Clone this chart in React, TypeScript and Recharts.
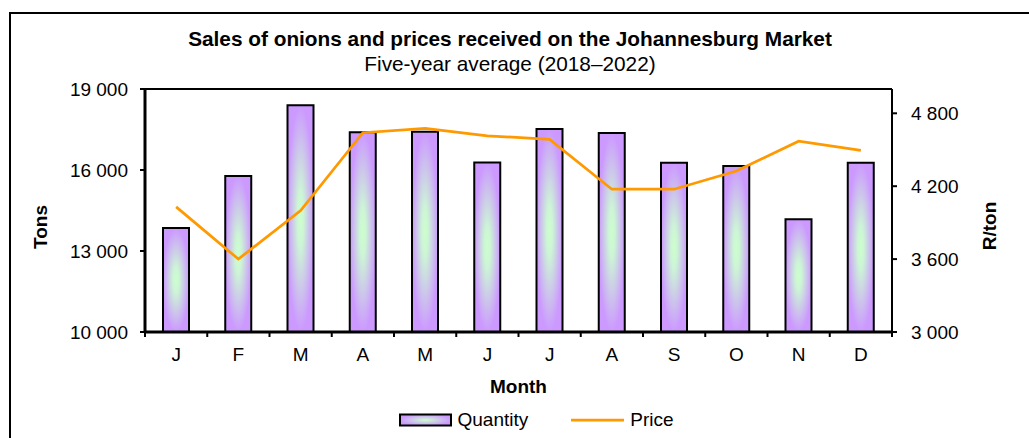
import React from 'react';
import { ComposedChart, Bar, Line, XAxis, YAxis, Legend, ReferenceLine } from 'recharts';

const months = ['J', 'F', 'M', 'A', 'M', 'J', 'J', 'A', 'S', 'O', 'N', 'D'];
const quantity = [13850, 15780, 18400, 17400, 17420, 16280, 17520, 17370, 16270, 16150, 14180, 16270];
const price = [4030, 3600, 4000, 4640, 4675, 4615, 4585, 4175, 4175, 4325, 4570, 4495];

const tonTicks = [10000, 13000, 16000, 19000];
const priceTicks = [3000, 3600, 4200, 4800];

const data = months.map((m, i) => ({ month: m, quantity: quantity[i], price: price[i] }));

const FONT = '"Liberation Sans", Arial, sans-serif';
const W = 1029;
const H = 438;
const LEFT_W = 145;
const RIGHT_W = 137;
const BAND = (W - LEFT_W - RIGHT_W) / months.length;

const fmt = (v: number) => {
  const s = String(v);
  return s.length > 3 ? s.slice(0, s.length - 3) + ' ' + s.slice(-3) : s;
};

const MonthTick = (props: any) => {
  const { x, y, payload, index } = props;
  const axisY = y - 16;
  const half = BAND / 2;
  return (
    <g>
      <text x={x} y={y} dy="0.71em" textAnchor="middle" fontSize={19} fontFamily={FONT} fill="#000">
        {payload.value}
      </text>
      <line x1={x - half} x2={x - half} y1={axisY} y2={axisY + 5} stroke="#000" strokeWidth={2} />
      {index === months.length - 1 && (
        <line x1={x + half} x2={x + half} y1={axisY} y2={axisY + 5} stroke="#000" strokeWidth={2} />
      )}
    </g>
  );
};

const LegendContent = () => (
  <div
    style={{
      display: 'flex',
      justifyContent: 'center',
      alignItems: 'center',
      height: 24,
      paddingLeft: 44,
      fontFamily: FONT,
      fontSize: 19,
      color: '#000',
    }}
  >
    <svg width={53} height={14} style={{ display: 'block' }}>
      <defs>
        <radialGradient id="legGrad" cx="0.5" cy="0.5" r="0.5">
          <stop offset="0" stopColor="#ccffcc" />
          <stop offset="1" stopColor="#cc99ff" />
        </radialGradient>
      </defs>
      <rect x={1} y={1.5} width={51} height={11} fill="url(#legGrad)" stroke="#000" strokeWidth={2} />
    </svg>
    <span style={{ marginLeft: 5 }}>Quantity</span>
    <svg width={53} height={6} style={{ display: 'block', marginLeft: 43 }}>
      <line x1={0} x2={53} y1={3} y2={3} stroke="#ff9900" strokeWidth={2.75} />
    </svg>
    <span style={{ marginLeft: 6 }}>Price</span>
  </div>
);

export default function App() {
  return (
    <div style={{ position: 'absolute', left: 0, top: 0, width: W, height: H, background: '#fff' }}>
      <ComposedChart width={W} height={H} data={data} margin={{ top: 89, right: 0, bottom: 6, left: 0 }}>
        <defs>
          <radialGradient id="qtyGrad" cx="0.5" cy="0.5" r="0.5">
            <stop offset="0" stopColor="#ccffcc" />
            <stop offset="0.25" stopColor="#ccf4d6" />
            <stop offset="1" stopColor="#cc99ff" />
          </radialGradient>
        </defs>
        <XAxis
          dataKey="month"
          height={76}
          interval={0}
          tickSize={5}
          tickMargin={11}
          tickLine={false}
          axisLine={{ stroke: '#000', strokeWidth: 3 }}
          tick={<MonthTick />}
          label={(p: any) => {
            const vb = p.viewBox;
            return (
              <text x={vb.x + vb.width / 2} y={393} textAnchor="middle" fontSize={19} fontWeight="bold" fontFamily={FONT} fill="#000">
                Month
              </text>
            );
          }}
        />
        <YAxis
          yAxisId="left"
          width={LEFT_W}
          domain={[10000, 19000]}
          ticks={tonTicks}
          tickFormatter={fmt}
          tickSize={5}
          tickMargin={12}
          axisLine={{ stroke: '#000', strokeWidth: 3 }}
          tickLine={{ stroke: '#000', strokeWidth: 2 }}
          tick={{ fontSize: 19, fontFamily: FONT, fill: '#000' }}
          label={() => (
            <text x={47} y={227} transform="rotate(-90 47 227)" textAnchor="middle" fontSize={19} fontWeight="bold" fontFamily={FONT} fill="#000">
              Tons
            </text>
          )}
        />
        <YAxis
          yAxisId="right"
          orientation="right"
          width={RIGHT_W}
          domain={[3000, 5000]}
          ticks={priceTicks}
          tickFormatter={fmt}
          tickSize={5}
          tickMargin={14}
          axisLine={{ stroke: '#000', strokeWidth: 2 }}
          tickLine={{ stroke: '#000', strokeWidth: 2 }}
          tick={{ fontSize: 19, fontFamily: FONT, fill: '#000' }}
          label={() => (
            <text x={996} y={226} transform="rotate(-90 996 226)" textAnchor="middle" fontSize={19} fontWeight="bold" fontFamily={FONT} fill="#000">
              R/ton
            </text>
          )}
        />
        <ReferenceLine yAxisId="left" y={19000} stroke="#000" strokeWidth={2} />
        <Bar
          yAxisId="left"
          dataKey="quantity"
          name="Quantity"
          barSize={26}
          fill="url(#qtyGrad)"
          stroke="#000"
          strokeWidth={2}
          isAnimationActive={false}
        />
        <Line
          yAxisId="right"
          dataKey="price"
          name="Price"
          type="linear"
          stroke="#ff9900"
          strokeWidth={2.75}
          dot={false}
          activeDot={false}
          isAnimationActive={false}
        />
        <Legend verticalAlign="bottom" content={<LegendContent />} />
      </ComposedChart>
      <svg width={W} height={H} style={{ position: 'absolute', left: 0, top: 0, pointerEvents: 'none' }}>
        <line x1={10} x2={W} y1={13} y2={13} stroke="#000" strokeWidth={2} />
        <line x1={10} x2={10} y1={12} y2={H} stroke="#000" strokeWidth={2} />
        <text x={510} y={46} textAnchor="middle" fontSize={20.8} fontWeight="bold" fontFamily={FONT} fill="#000">
          Sales of onions and prices received on the Johannesburg Market
        </text>
        <text x={510} y={71} textAnchor="middle" fontSize={20.8} fontFamily={FONT} fill="#000">
          Five-year average (2018–2022)
        </text>
      </svg>
    </div>
  );
}
